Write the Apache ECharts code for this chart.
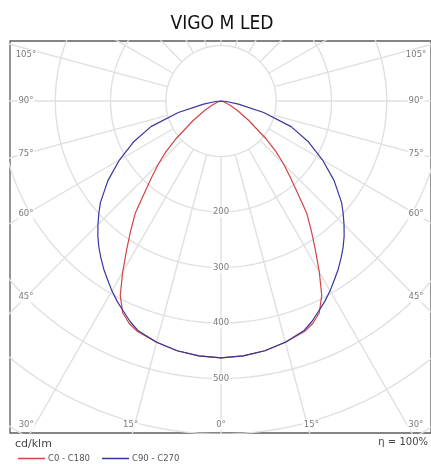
<!DOCTYPE html>
<html>
<head>
<meta charset="utf-8">
<script src="https://cdn.jsdelivr.net/npm/echarts@6/dist/echarts.min.js"></script>
<style>
  html, body { margin: 0; padding: 0; background: #fff; }
  #main { width: 431px; height: 464px; }
</style>
</head>
<body>
<div id="main"></div>
<script>
// gamma angles (deg from nadir) and intensities in cd/klm
const angles = [0, 5, 10, 15, 20, 22.5, 25, 27.5, 30, 32.5, 35, 37.5, 40, 42.5, 45, 47.5, 50, 55, 60, 65, 70, 75, 80, 85, 90]
const c0c180 = [463, 461, 457, 450, 442, 434, 421, 395, 356, 318, 285, 255, 215, 185, 160, 135, 108, 62, 35, 18, 9, 4, 2, 1, 0]
const c90c270 = [463, 461, 457, 450, 440, 430, 418, 407, 395, 382, 370, 357, 344, 330, 315, 300, 285, 250, 212, 175, 135, 80, 32, 10, 0]

const rings = [100, 200, 300, 400, 500, 600, 700]
const ringLabels = [200, 300, 400, 500]
const radials = [-180, -165, -150, -135, -120, -105, -90, -75, -60, -45, -30, -15, 0, 15, 30, 45, 60, 75, 90, 105, 120, 135, 150, 165]
const angleLabels = [-105, -90, -75, -60, -45, -30, -15, 0, 15, 30, 45, 60, 75, 90, 105]

const S = 0.555        // px per cd/klm
const CX = 222, CY = 101
const frame = { left: 10, top: 41, right: 433, bottom: 433 }

const rad = d => d * Math.PI / 180
const toXY = (deg, v) => [v * Math.sin(rad(deg)), -v * Math.cos(rad(deg))]

function curve(vals) {
  const left = angles.map((a, i) => toXY(-a, vals[i])).reverse()
  const right = angles.slice(1).map((a, i) => toXY(a, vals[i + 1]))
  return left.concat(right)
}

const gridLine = { color: '#e0e0e0', width: 1.4 }
const series = []

rings.forEach(r => {
  const pts = []
  for (let t = 0; t <= 360; t += 2) pts.push(toXY(t, r))
  series.push({ type: 'line', data: pts, symbol: 'none', silent: true, lineStyle: gridLine, z: 1 })
})
radials.forEach(a => {
  series.push({ type: 'line', data: [toXY(a, 100), toXY(a, 900)], symbol: 'none', silent: true, lineStyle: gridLine, z: 1 })
})

// angle labels along the frame
const labelPts = angleLabels.map(a => {
  const sx = Math.sin(rad(a)), cy = Math.cos(rad(a))
  let t = Math.abs(sx) > 1e-6 ? 196 / Math.abs(sx) : Infinity
  if (cy > 1e-6) t = Math.min(t, 339 / cy)
  const px = CX + t * sx
  const py = Math.min(425, Math.max(55, CY + t * cy))
  return { value: [(px - CX) / S, (CY - py) / S], name: Math.abs(a) + '°' }
})

const smallText = { color: '#5a5a5a', fontSize: 8.5, fontFamily: 'DejaVu Sans' }

series.push({
  type: 'scatter', data: labelPts, symbolSize: 1, silent: true, z: 3,
  itemStyle: { color: 'rgba(0,0,0,0)' },
  label: { show: true, position: 'inside', formatter: p => p.name, backgroundColor: '#fff', padding: [1, 1], ...smallText }
})
series.push({
  type: 'scatter', data: ringLabels.map(v => [0, -v]), symbolSize: 1, silent: true, z: 3,
  itemStyle: { color: 'rgba(0,0,0,0)' },
  label: { show: true, position: 'inside', formatter: p => String(-p.value[1]), backgroundColor: '#fff', padding: [1, 1], ...smallText }
})

series.push({
  name: 'C0 - C180', type: 'line', data: curve(c0c180), symbol: 'none', z: 5,
  lineStyle: { color: '#d04545', width: 1.2 }, itemStyle: { color: '#d04545' }
})
series.push({
  name: 'C90 - C270', type: 'line', data: curve(c90c270), symbol: 'none', z: 6,
  lineStyle: { color: '#3636a0', width: 1.2 }, itemStyle: { color: '#3636a0' }
})

const chart = echarts.init(document.getElementById('main'))
chart.setOption({
  animation: false,
  grid: {
    left: frame.left, top: frame.top,
    width: frame.right - frame.left, height: frame.bottom - frame.top,
    show: true, borderColor: '#5c5c5c', borderWidth: 1.3, backgroundColor: '#fff'
  },
  xAxis: { type: 'value', min: -(CX - frame.left) / S, max: (frame.right - CX) / S, show: false },
  yAxis: { type: 'value', min: -(frame.bottom - CY) / S, max: (CY - frame.top) / S, show: false },
  legend: {
    data: ['C0 - C180', 'C90 - C270'], left: 13, top: 449,
    icon: 'rect', itemWidth: 27, itemHeight: 1.5, itemGap: 12,
    textStyle: { color: '#555', fontSize: 8.5, fontFamily: 'DejaVu Sans', padding: [0, 0, 0, -2] }
  },
  graphic: [
    { type: 'text', x: 222, y: 24, scaleX: 0.86, style: { text: 'VIGO M LED', fill: '#111', fontSize: 20, fontFamily: 'DejaVu Sans', textAlign: 'center', textVerticalAlign: 'middle' } },
    { type: 'text', x: 15, y: 444, style: { text: 'cd/klm', fill: '#444', fontSize: 11, fontFamily: 'DejaVu Sans', textVerticalAlign: 'middle' } },
    { type: 'text', x: 428, y: 442, style: { text: 'η = 100%', fill: '#444', fontSize: 10, fontFamily: 'DejaVu Sans', textAlign: 'right', textVerticalAlign: 'middle' } }
  ],
  series: series
})
</script>
</body>
</html>
